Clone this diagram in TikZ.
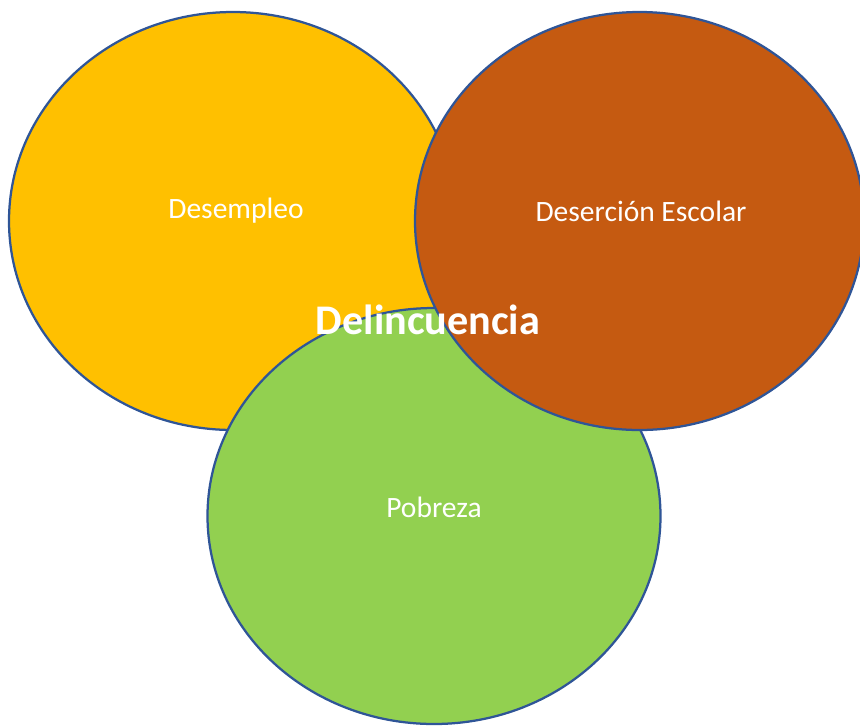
\documentclass[tikz,border=0pt]{standalone}
\usepackage{fontspec}
\setmainfont{Carlito}
\usetikzlibrary{shapes.geometric}

\definecolor{amarillo}{HTML}{FFC000}
\definecolor{naranja}{HTML}{C55A11}
\definecolor{verde}{HTML}{92D050}
\definecolor{borde}{HTML}{2F5597}

\tikzset{
  circulo/.style={ellipse, draw=borde, line width=1.6pt, inner sep=0pt},
  etiqueta/.style={text=white, font=\fontsize{21}{25}\selectfont}
}

\begin{document}
\begin{tikzpicture}[x=0.025cm, y=-0.025cm]
\useasboundingbox (0,0) rectangle (860,726);
\node[circulo, fill=amarillo, minimum width=448*0.025cm, minimum height=418*0.025cm] (desempleo) at (233,221) {};
\node[circulo, fill=verde, minimum width=453*0.025cm, minimum height=416*0.025cm] (pobreza) at (434,516) {};
\node[circulo, fill=naranja, minimum width=449*0.025cm, minimum height=418*0.025cm] (desercion) at (639.5,221) {};
\draw (236,211) node[etiqueta] (tdesempleo) {Desempleo};
\draw (641,211) node[etiqueta] (tdesercion) {Deserción Escolar};
\draw (434,507) node[etiqueta] (tpobreza) {Pobreza};
\draw (428,320) node[text=white, font=\fontsize{30}{36}\selectfont\bfseries] (delincuencia) {Delincuencia};
\end{tikzpicture}
\end{document}
